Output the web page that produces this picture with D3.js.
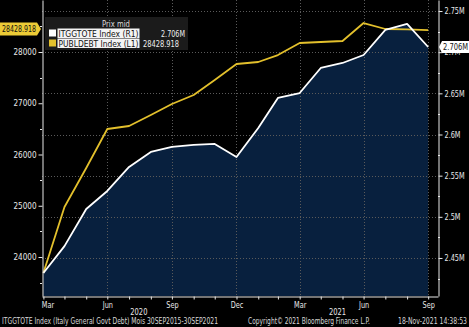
<!DOCTYPE html>
<html><head><meta charset="utf-8">
<script src="https://cdn.jsdelivr.net/npm/d3@7"></script>
<style>
html,body{margin:0;padding:0;background:#000;}
svg{display:block;}
text{font-family:"Liberation Sans Narrow","DejaVu Sans Condensed","Arial Narrow","Liberation Sans",Arial,sans-serif;}
</style></head>
<body>
<script>
// ---- data ----
const months = ["2020-03-31","2020-04-30","2020-05-31","2020-06-30","2020-07-31","2020-08-31","2020-09-30","2020-10-31","2020-11-30","2020-12-31","2021-01-31","2021-02-28","2021-03-31","2021-04-30","2021-05-31","2021-06-30","2021-07-31","2021-08-31","2021-09-30"];
const itggtote = [2.4318,2.4644,2.5095,2.5314,2.5606,2.5788,2.5849,2.5873,2.5885,2.5727,2.6079,2.6444,2.6504,2.6808,2.6869,2.6966,2.7270,2.7343,2.7063]; // millions (right axis)
const publdebt = [23688,24976,25737,26498,26556,26771,26985,27161,27454,27766,27805,27941,28176,28195,28215,28566,28449,28440,28428.918]; // left axis
const leftTicks = [24000,25000,26000,27000,28000];
const rightTicks = [2.45,2.5,2.55,2.6,2.65,2.7,2.75];
const xLabelMonths = ["2020-03-31","2020-06-30","2020-09-30","2020-12-31","2021-03-31","2021-06-30","2021-09-30"];
const yearLabels = [{label:"2020", date:"2020-08-14"},{label:"2021", date:"2021-05-24"}];
const legendTitle = "Prix mid";
const legendRows = [{name:"ITGGTOTE Index  (R1)", value:"2.706M"},{name:"PUBLDEBT Index  (L1)", value:"28428.918"}];
const footerLeft = "ITGGTOTE Index (Italy General Govt Debt)  Mois 30SEP2015-30SEP2021";
const footerMid = "Copyright\u00A9 2021 Bloomberg Finance L.P.";
const footerRight = "18-Nov-2021 14:38:53";

const W=469,H=327;
const L=42,R=438,T=0,B=296;
const FS="8.5px";
const parse=d3.utcParse("%Y-%m-%d");
const dates=months.map(parse);
const svg=d3.select("body").append("svg").attr("width",W).attr("height",H).style("background","#000");

// condense text horizontally (emulates the narrow terminal font)
function condense(sel,f){sel.each(function(){const n=this;const w=n.getComputedTextLength();if(w>0){d3.select(n).attr("textLength",(w*f).toFixed(1)).attr("lengthAdjust","spacingAndGlyphs");}});}
function fitTo(sel,w){sel.attr("textLength",w).attr("lengthAdjust","spacingAndGlyphs");}

const x=d3.scaleUtc().domain([parse("2020-03-29"),parse("2021-10-14")]).range([L,R]);
const yL=d3.scaleLinear().domain([23239,29015]).range([B,T]);
const yR=d3.scaleLinear().domain([2.4038,2.7634]).range([B,T]);

const dataW=dates.map((d,i)=>({d,v:itggtote[i]}));
const dataY=dates.map((d,i)=>({d,v:publdebt[i]}));

// area
svg.append("path").datum(dataW)
 .attr("d",d3.area().x(p=>x(p.d)).y0(B).y1(p=>yR(p.v)))
 .attr("fill","#08203e");

// gridlines
const grid=svg.append("g").attr("stroke","#5a5a5a").attr("stroke-width",1).attr("stroke-dasharray","1,2");
rightTicks.forEach(t=>grid.append("line").attr("x1",L).attr("x2",R).attr("y1",Math.round(yR(t))+0.5).attr("y2",Math.round(yR(t))+0.5));
xLabelMonths.slice(1).forEach(m=>{const xx=Math.round(x(parse(m)))+0.5;grid.append("line").attr("x1",xx).attr("x2",xx).attr("y1",T).attr("y2",B);});

// lines
svg.append("path").datum(dataY)
 .attr("d",d3.line().x(p=>x(p.d)).y(p=>yL(p.v)))
 .attr("fill","none").attr("stroke","#e3c02c").attr("stroke-width",1.8).attr("stroke-linejoin","round");
svg.append("path").datum(dataW)
 .attr("d",d3.line().x(p=>x(p.d)).y(p=>yR(p.v)))
 .attr("fill","none").attr("stroke","#ffffff").attr("stroke-width",1.8).attr("stroke-linejoin","round");

// axes
const axCol="#e8e8e8";
function styleAxis(g){g.select(".domain").attr("stroke",axCol);g.selectAll(".tick line").attr("stroke",axCol);g.selectAll(".tick text").attr("fill",axCol).style("font-size",FS);}
// left
const gl=svg.append("g").attr("transform",`translate(${L+0.5},0)`)
 .call(d3.axisLeft(yL).tickValues(leftTicks).tickSize(4).tickPadding(2).tickFormat(d3.format("d")).tickSizeOuter(0));
styleAxis(gl);
condense(gl.selectAll(".tick text"),0.95);
const minorL=d3.range(23500,29001,1000);
svg.append("g").selectAll("line").data(minorL).join("line")
 .attr("x1",L-2).attr("x2",L).attr("y1",d=>Math.round(yL(d))+0.5).attr("y2",d=>Math.round(yL(d))+0.5).attr("stroke",axCol);
// right
const gr=svg.append("g").attr("transform",`translate(${R+0.5},0)`)
 .call(d3.axisRight(yR).tickValues(rightTicks).tickSize(4).tickPadding(2).tickFormat(d=>d3.format("~g")(d)+"M").tickSizeOuter(0));
styleAxis(gr);
condense(gr.selectAll(".tick text"),0.85);
const minorR=d3.range(2.425,2.77,0.05);
svg.append("g").selectAll("line").data(minorR).join("line")
 .attr("x1",R).attr("x2",R+2).attr("y1",d=>Math.round(yR(d))+0.5).attr("y2",d=>Math.round(yR(d))+0.5).attr("stroke",axCol);
// bottom
const labelSet=new Set(xLabelMonths);
const gb=svg.append("g").attr("transform",`translate(0,${B+0.5})`)
 .call(d3.axisBottom(x).tickValues(dates).tickSize(3).tickPadding(2).tickSizeOuter(0)
   .tickFormat((d)=>labelSet.has(d3.utcFormat("%Y-%m-%d")(d))?d3.utcFormat("%b")(d):""));
styleAxis(gb);
gb.selectAll(".tick text").attr("dy","0.72em");
condense(gb.selectAll(".tick text"),0.85);
gb.select(".tick text").attr("dx","4");
const yl=svg.append("g").selectAll("text").data(yearLabels).join("text")
 .attr("x",d=>x(parse(d.date))).attr("y",315).attr("text-anchor","middle")
 .attr("fill",axCol).style("font-size",FS).text(d=>d.label);
condense(yl,0.88);

// value tags
const lastY=publdebt[publdebt.length-1], lastW=itggtote[itggtote.length-1];
const ty=yL(lastY)-1;
svg.append("path").attr("d",`M0,${ty-6.5}H37L41,${ty}L37,${ty+6.5}H0Z`).attr("fill","#eccb36");
fitTo(svg.append("text").attr("x",2).attr("y",ty+3).attr("fill","#111").style("font-size",FS).text(d3.format(".3f")(lastY)),34);
const wy=yR(lastW);
svg.append("path").attr("d",`M${R+1},${wy}L${R+4},${wy-6}H${W}V${wy+6}H${R+4}Z`).attr("fill","#ffffff");
fitTo(svg.append("text").attr("x",R+5).attr("y",wy+3).attr("fill","#111").style("font-size",FS).text(d3.format(".3f")(lastW)+"M"),25);

// legend
const lg=svg.append("g");
lg.append("rect").attr("x",45).attr("y",17).attr("width",143).attr("height",33).attr("fill","#1b1b1b");
condense(lg.append("text").attr("x",116).attr("y",26.5).attr("text-anchor","middle").attr("fill","#ddd").style("font-size",FS).text(legendTitle),0.9);
const cols=["#ffffff","#e3c02c"];
const valX=[161,143],valW=[24,36];
legendRows.forEach((r,i)=>{
  const yy=29+i*10;
  lg.append("rect").attr("x",49).attr("y",yy+0.5).attr("width",7).attr("height",7).attr("fill",cols[i]);
  lg.append("rect").attr("x",57.5).attr("y",yy-0.5).attr("width",82).attr("height",9.5).attr("fill","#f4f4f4");
  fitTo(lg.append("text").attr("x",58.5).attr("y",yy+7.5).attr("fill","#111").style("font-size",FS).text(r.name),80);
  fitTo(lg.append("text").attr("x",valX[i]).attr("y",yy+7.5).attr("fill","#eee").style("font-size",FS).text(r.value),valW[i]);
});

// footer
const ft=svg.append("g").attr("fill","#d8d8d8").style("font-size","8px");
fitTo(ft.append("text").attr("x",2).attr("y",324).text(footerLeft),216);
fitTo(ft.append("text").attr("x",248).attr("y",324).text(footerMid),122);
fitTo(ft.append("text").attr("x",398).attr("y",324).text(footerRight),69);
</script>
</body></html>
